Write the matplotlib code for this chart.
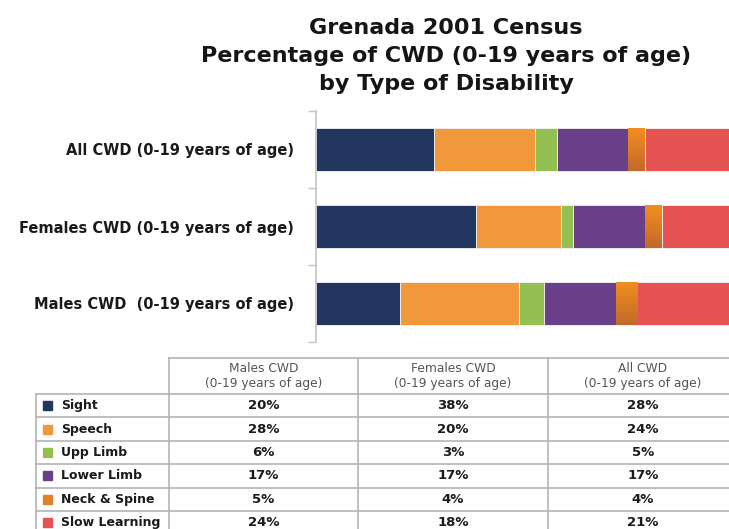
import matplotlib
matplotlib.use("Agg")
import matplotlib.pyplot as plt
import numpy as np
from matplotlib.colors import LinearSegmentedColormap

groups = ["Males CWD  (0-19 years of age)", "Females CWD (0-19 years of age)", "All CWD (0-19 years of age)"]
types = ["Sight", "Speech", "Upp Limb", "Lower Limb", "Neck & Spine", "Slow Learning"]
males = [20, 28, 6, 17, 5, 24]
females = [38, 20, 3, 17, 4, 18]
all_cwd = [28, 24, 5, 17, 4, 21]
col_heads = ["Males CWD", "Females CWD", "All CWD"]
col_sub = "(0-19 years of age)"

colors = ["#22365F", "#F0983A", "#94C052", "#6A3F8A", "#E0822A", "#E55353"]
W, H = 729, 529

fig = plt.figure(figsize=(W / 100, H / 100), dpi=100)

fig.text(446 / W, 1 - 56 / H, "Grenada 2001 Census\nPercentage of CWD (0-19 years of age)\nby Type of Disability",
         ha="center", va="center", fontsize=16, fontweight="bold", family="DejaVu Sans",
         color="#151515", linespacing=1.48)

# stacked bar chart, right part runs past the figure edge like the source crop
ax = fig.add_axes([316 / W, 1 - 342 / H, 422 / W, 231 / H])
series = np.array([males, females, all_cwd])  # rows follow groups
y = np.arange(len(groups))
left = np.zeros(len(groups))
for i, t in enumerate(types):
    bars = ax.barh(y, series[:, i], left=left, height=0.55, color=colors[i],
                   edgecolor="#f4f4f4", linewidth=0.6, zorder=2)
    if t == "Neck & Spine":
        cmap = LinearSegmentedColormap.from_list("ns", ["#F28E1E", "#C2692C"])
        for b in bars:
            x0, yb, w, h = b.get_x(), b.get_y(), b.get_width(), b.get_height()
            im = ax.imshow(np.linspace(0, 1, 50).reshape(-1, 1), cmap=cmap, aspect="auto",
                           extent=(x0, x0 + w, yb + h, yb), origin="lower", zorder=3)
            im.set_clip_path(b)
    left += series[:, i]

ax.set_xlim(0, 100)
ax.set_ylim(-0.5, len(groups) - 0.5)
ax.set_yticks(y)
ax.set_yticklabels(groups, fontsize=10.5, fontweight="bold", family="DejaVu Sans", color="#1a1a1a")
ax.set_yticks(np.arange(-0.5, len(groups), 1.0), minor=True)
ax.tick_params(axis="y", which="major", length=0, pad=16)
ax.tick_params(axis="y", which="minor", length=6, color="#c4c4c4", width=1)
ax.set_xticks([])
for s in ["top", "right", "bottom"]:
    ax.spines[s].set_visible(False)
ax.spines["left"].set_color("#c4c4c4")
ax.spines["left"].set_linewidth(1.2)

# data table under the chart, drawn in pixel coordinates
tb = fig.add_axes([0, 0, 1, 1])
tb.set_xlim(0, W)
tb.set_ylim(H, 0)
tb.axis("off")
line_c = "#b4b4b4"
col_x = [169, 358, 548, 738]
lab_x0 = 36
head_top, head_bot = 358, 394
row_h = 23.4
n_rows = len(types)
bottom = head_bot + row_h * n_rows

tb.plot([col_x[0], W + 20], [head_top, head_top], color=line_c, lw=1.2)
for cx in col_x:
    tb.plot([cx, cx], [head_top, bottom], color=line_c, lw=1.2)
tb.plot([lab_x0, lab_x0], [head_bot, bottom], color=line_c, lw=1.2)
for r in range(n_rows + 1):
    yy = head_bot + r * row_h
    tb.plot([lab_x0, W + 20], [yy, yy], color=line_c, lw=1.2)

for c, head in enumerate(col_heads):
    xc = (col_x[c] + col_x[c + 1]) / 2
    tb.text(xc, 368, head, ha="center", va="center", fontsize=8.8, color="#555555")
    tb.text(xc, 384, col_sub, ha="center", va="center", fontsize=8.8, color="#555555")

cols = [males, females, all_cwd]
for r, t in enumerate(types):
    yc = head_bot + (r + 0.5) * row_h
    tb.add_patch(plt.Rectangle((43, yc - 4.5), 9, 9, color=colors[r]))
    tb.text(61, yc, t, ha="left", va="center", fontsize=9, fontweight="bold", color="#1a1a1a")
    for c, vals in enumerate(cols):
        xc = (col_x[c] + col_x[c + 1]) / 2
        tb.text(xc, yc, f"{vals[r]}%", ha="center", va="center", fontsize=9.5,
                fontweight="bold", color="#1a1a1a")

fig.savefig("out.png", dpi=100)
